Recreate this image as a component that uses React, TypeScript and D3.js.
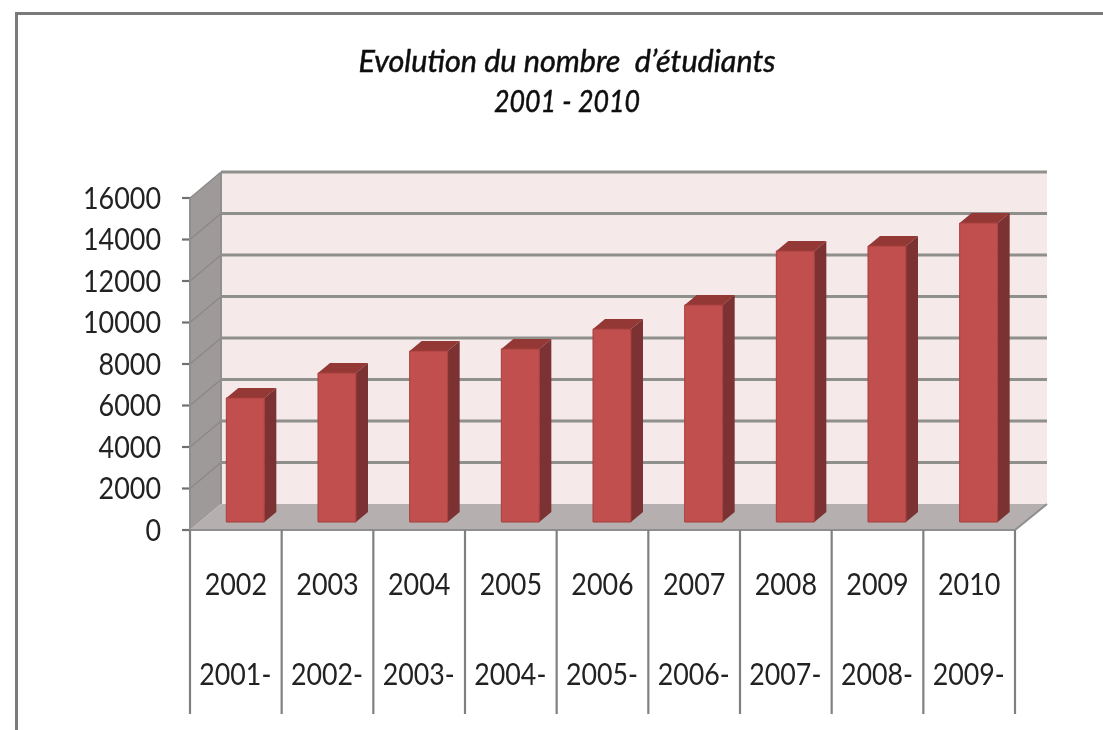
import React from "react";
import * as d3 from "d3";

const categoriesTop = ["2002", "2003", "2004", "2005", "2006", "2007", "2008", "2009", "2010"];
const categoriesBottom = ["2001-", "2002-", "2003-", "2004-", "2005-", "2006-", "2007-", "2008-", "2009-"];
const students = [5980, 7180, 8240, 8340, 9300, 10460, 13060, 13300, 14410];
const yTicks = [0, 2000, 4000, 6000, 8000, 10000, 12000, 14000, 16000];
const titleLines = ["Evolution du nombre  d’étudiants", "2001 - 2010"];

const FONT = "Lato, 'Open Sans', sans-serif";
const depthX = 31;
const depthY = 26;
const barDepthX = 12;
const barDepthY = 10;
const gapX = 9.5;
const gapY = 8;
const charW = 15.6;

const x = d3.scaleBand<string>().domain(categoriesTop).range([190, 1015]).paddingInner(0).paddingOuter(0);
const y = d3.scaleLinear().domain([0, 16000]).range([530, 198]);
const poly = (pts: [number, number][]) => d3.line()(pts) + "Z";

export default function App() {
  const x0 = x.range()[0];
  const x1 = x.range()[1];
  const y0 = y(0);
  const yTop = y(16000);
  const barW = 38;
  return (
    <svg width={1103} height={730} style={{ position: "absolute", left: 0, top: 0, background: "#fff" }}>
      <defs>
        <filter id="soft" x="-2%" y="-2%" width="104%" height="104%">
          <feGaussianBlur stdDeviation="0.7" />
        </filter>
      </defs>
      <g filter="url(#soft)">
        <path d="M16.5 730V13.5H1103" fill="none" stroke="#7a7a7a" strokeWidth={3} />
        <path d={poly([[x0 + depthX, yTop - depthY], [x1 + depthX + 1, yTop - depthY], [x1 + depthX + 1, y0 - depthY], [x0 + depthX, y0 - depthY]])} fill="#f5e9ea" />
        <path d={poly([[x0, yTop], [x0 + depthX, yTop - depthY], [x0 + depthX, y0 - depthY], [x0, y0]])} fill="#9e9a9a" />
        <path d={poly([[x0, y0], [x0 + depthX, y0 - depthY], [x1 + depthX + 1, y0 - depthY], [x1, y0]])} fill="#b5afaf" />
        {yTicks.map((t) => (
          <g key={t} fill="none">
            {t > 0 && <path d={`M${x0} ${y(t)}L${x0 + depthX} ${y(t) - depthY}`} stroke="#8b8787" strokeWidth={1.2} />}
            {t > 0 && <path d={`M${x0 + depthX} ${y(t) - depthY}H${x1 + depthX + 1}`} stroke="#8f8f8b" strokeWidth={2.8} />}
            <path d={`M${x0 - 8} ${y(t)}H${x0}`} stroke="#707070" strokeWidth={2.2} />
          </g>
        ))}
        <path d={`M${x0 + depthX} ${yTop - depthY}V${y0 - depthY}`} fill="none" stroke="#8f8f8b" strokeWidth={2} />
        <path d={`M${x0} ${yTop}V${y0}H${x1}L${x1 + depthX + 1} ${y0 - depthY}`} fill="none" stroke="#8f8f8f" strokeWidth={2} />
        {[...categoriesTop.map((c) => x(c)!), x1].map((vx) => (
          <line key={vx} x1={vx} x2={vx} y1={y0} y2={714} stroke="#808080" strokeWidth={2.2} />
        ))}
        {students.map((v, i) => {
          const c = categoriesTop[i];
          const left = x(c)! + (x.bandwidth() - barW) / 2 + gapX;
          const right = left + barW;
          const bottom = y0 - gapY;
          const top = bottom - (y0 - y(v));
          return (
            <g key={c}>
              <path d={poly([[left, top], [left + barDepthX, top - barDepthY], [right + barDepthX, top - barDepthY], [right, top]])} fill="#933735" />
              <path d={poly([[right, top], [right + barDepthX, top - barDepthY], [right + barDepthX, bottom - barDepthY], [right, bottom]])} fill="#7b3030" />
              <path d={poly([[left, top], [right, top], [right, bottom], [left, bottom]])} fill="#c0504d" stroke="#a63f3c" strokeWidth={1} />
            </g>
          );
        })}
        <g fontFamily={FONT} fontSize={30} fill="#222" lengthAdjust="spacingAndGlyphs">
          {yTicks.map((t) => (
            <text key={t} x={161} y={y(t)} dy="0.36em" textAnchor="end" textLength={String(t).length * charW} lengthAdjust="spacingAndGlyphs">{t}</text>
          ))}
          {categoriesTop.map((c) => (
            <text key={c} x={x(c)! + x.bandwidth() / 2} y={595} textAnchor="middle" textLength={c.length * charW} lengthAdjust="spacingAndGlyphs">{c}</text>
          ))}
          {categoriesBottom.map((c, i) => (
            <text key={c} x={x(categoriesTop[i])! + x.bandwidth() / 2 - 0.5} y={685} textAnchor="middle" textLength={72} lengthAdjust="spacingAndGlyphs">{c}</text>
          ))}
        </g>
        <g fontFamily={FONT} fontSize={30} fontStyle="italic" fill="#111" stroke="#111" strokeWidth={0.5} textAnchor="middle">
          <text x={567} y={72} xmlSpace="preserve" textLength={417} lengthAdjust="spacingAndGlyphs">{titleLines[0]}</text>
          <text x={567} y={112} textLength={146} lengthAdjust="spacingAndGlyphs">{titleLines[1]}</text>
        </g>
      </g>
    </svg>
  );
}
